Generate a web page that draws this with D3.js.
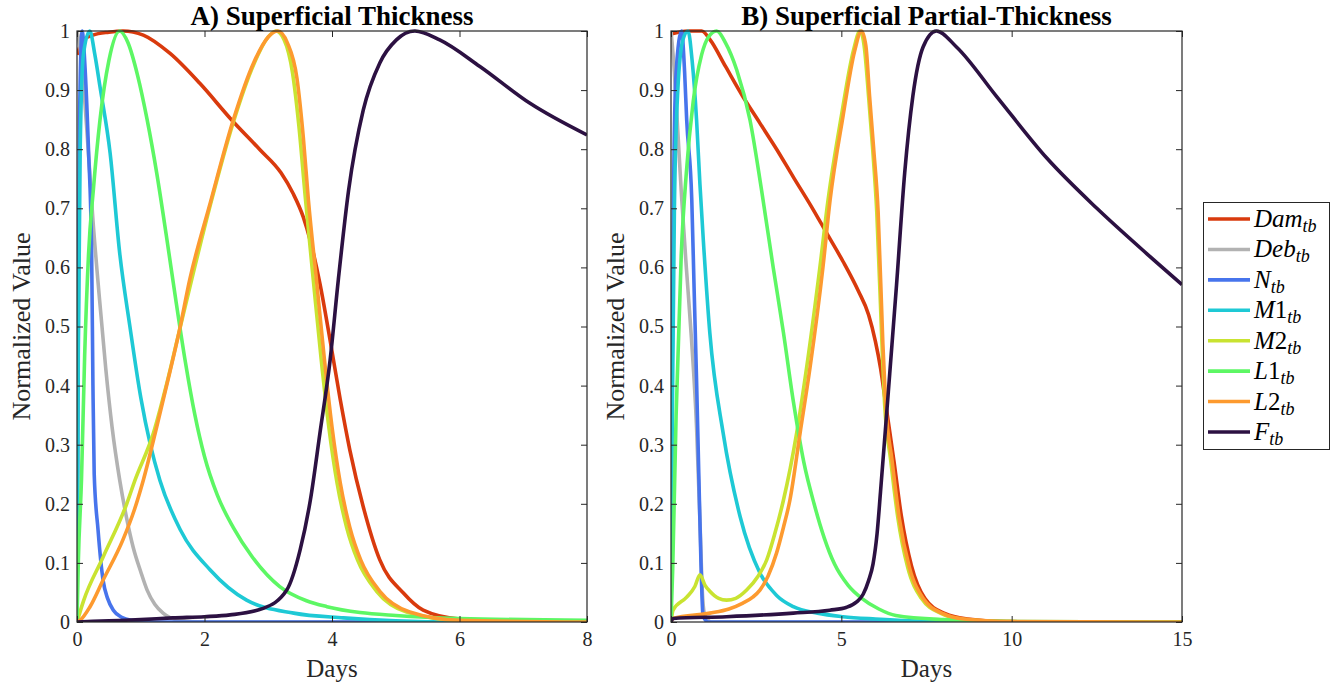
<!DOCTYPE html>
<html lang="en">
<head>
    <meta charset="UTF-8">
    <title>Normalized Value vs Days</title>
    <script src="https://cdnjs.cloudflare.com/ajax/libs/d3/7.8.5/d3.min.js"></script>
</head>
<body style="margin:0">
    <div id="wrapper"></div>
    <script>
        // ---- data: [days, normalized value] ----
        const seriesNames = ['Dam', 'Deb', 'N', 'M1', 'M2', 'L1', 'L2', 'F']
        const seriesColors = ['#d93a0d', '#b2b2b2', '#4774ec', '#1ec9d5', '#c9e331', '#5df764', '#fd9a2f', '#2c1142']

        // panel A - superficial thickness
        const damA = [[0,0.96],[0.1,0.985],[0.25,0.993],[0.5,0.998],[0.72,1.0],[1.04,0.993],[1.46,0.962],[1.93,0.911],[2.43,0.849],[2.87,0.799],[3.2,0.76],[3.39,0.725],[3.55,0.685],[3.66,0.645],[3.81,0.573],[3.97,0.477],[4.13,0.376],[4.28,0.291],[4.49,0.195],[4.75,0.105],[5.12,0.049],[5.43,0.02],[6,0.005],[7,0.001],[8,0]]
        const debA = [[0,1.0],[0.05,0.97],[0.15,0.84],[0.25,0.68],[0.35,0.55],[0.45,0.43],[0.55,0.33],[0.67,0.24],[0.78,0.175],[0.88,0.127],[1.0,0.085],[1.1,0.054],[1.22,0.03],[1.35,0.015],[1.6,0.003],[2,0],[8,0]]
        const nA   = [[0,0],[0.02,0.5],[0.04,0.85],[0.08,1.0],[0.13,0.93],[0.18,0.8],[0.23,0.62],[0.25,0.4],[0.27,0.25],[0.33,0.156],[0.41,0.07],[0.48,0.04],[0.57,0.02],[0.7,0.008],[0.85,0.003],[1.2,0],[8,0]]
        const m1A  = [[0,0],[0.02,0.45],[0.05,0.8],[0.1,0.96],[0.2,1.0],[0.28,0.96],[0.36,0.906],[0.52,0.793],[0.67,0.624],[0.83,0.5],[1.0,0.38],[1.15,0.3],[1.3,0.24],[1.62,0.156],[2.09,0.088],[2.66,0.037],[3.4,0.015],[4.18,0.007],[5,0.002],[6,0],[8,0]]
        const m2A  = [[0,0],[0.1,0.035],[0.41,0.11],[0.78,0.2],[0.91,0.24],[1.2,0.32],[1.4,0.4],[1.6,0.49],[1.8,0.58],[2.09,0.705],[2.45,0.845],[2.77,0.943],[3.0,0.99],[3.12,1.0],[3.25,0.985],[3.38,0.93],[3.48,0.84],[3.58,0.72],[3.71,0.575],[3.83,0.445],[3.95,0.33],[4.08,0.235],[4.23,0.16],[4.4,0.105],[4.7,0.052],[5.17,0.017],[6,0.003],[8,0]]
        const l1A  = [[0,0],[0.02,0.1],[0.07,0.24],[0.12,0.45],[0.18,0.62],[0.26,0.736],[0.36,0.849],[0.5,0.95],[0.67,1.0],[0.8,0.98],[0.95,0.925],[1.1,0.85],[1.25,0.76],[1.4,0.655],[1.55,0.545],[1.7,0.44],[1.85,0.35],[2.0,0.28],[2.2,0.215],[2.45,0.16],[2.75,0.11],[3.18,0.06],[3.6,0.036],[3.92,0.026],[4.44,0.016],[5,0.011],[6,0.006],[8,0.003]]
        const l2A  = [[0,0],[0.05,0.003],[0.2,0.025],[0.41,0.071],[0.72,0.139],[0.9,0.19],[1.04,0.24],[1.25,0.33],[1.45,0.42],[1.6,0.49],[1.77,0.58],[2.09,0.709],[2.45,0.849],[2.77,0.946],[3.0,0.99],[3.15,1.0],[3.3,0.98],[3.45,0.92],[3.55,0.82],[3.63,0.714],[3.76,0.575],[3.88,0.445],[4.0,0.33],[4.13,0.235],[4.28,0.16],[4.45,0.105],[4.75,0.052],[5.22,0.017],[6,0.003],[8,0]]
        const fA   = [[0,0],[0.5,0.002],[1,0.004],[1.5,0.007],[2,0.009],[2.4,0.012],[2.92,0.023],[3.29,0.054],[3.5,0.122],[3.66,0.206],[3.81,0.319],[3.97,0.443],[4.1,0.58],[4.26,0.73],[4.49,0.866],[4.75,0.946],[5.01,0.985],[5.3,1.0],[5.69,0.985],[6.32,0.94],[7.1,0.878],[8,0.824]]

        // panel B - superficial partial-thickness
        const damB = [[0,0.995],[0.5,1.0],[0.9,1.0],[1.15,0.985],[1.6,0.94],[2.1,0.89],[2.6,0.845],[3.1,0.8],[3.6,0.752],[4.1,0.705],[4.6,0.655],[5.05,0.61],[5.5,0.56],[5.8,0.52],[6.0,0.475],[6.15,0.43],[6.3,0.37],[6.55,0.27],[6.76,0.18],[7.06,0.095],[7.45,0.04],[8.05,0.014],[8.7,0.005],[10,0],[15,0]]
        const debB = [[0,1.0],[0.1,0.93],[0.2,0.83],[0.31,0.72],[0.45,0.6],[0.6,0.48],[0.75,0.33],[0.85,0.17],[0.93,0.04],[1.0,0.01],[1.2,0],[15,0]]
        const nB   = [[0,0],[0.03,0.4],[0.08,0.75],[0.15,0.93],[0.31,1.0],[0.4,0.93],[0.46,0.85],[0.61,0.714],[0.68,0.56],[0.75,0.41],[0.82,0.24],[0.88,0.1],[0.94,0.01],[1.1,0],[15,0]]
        const m1B  = [[0,0],[0.03,0.3],[0.1,0.7],[0.2,0.9],[0.35,0.985],[0.5,1.0],[0.62,0.95],[0.75,0.85],[0.85,0.74],[0.95,0.645],[1.14,0.489],[1.53,0.32],[2.03,0.178],[2.61,0.083],[3.1,0.045],[3.59,0.026],[4.3,0.015],[5.05,0.009],[6,0.005],[7,0.002],[9,0],[15,0]]
        const m2B  = [[0,0],[0.06,0.02],[0.46,0.042],[0.7,0.06],[0.85,0.08],[1.0,0.062],[1.14,0.052],[1.4,0.04],[1.63,0.037],[1.9,0.04],[2.22,0.054],[2.55,0.077],[2.81,0.105],[3.05,0.15],[3.3,0.206],[3.5,0.26],[3.69,0.32],[3.98,0.43],[4.37,0.6],[4.61,0.714],[5.0,0.856],[5.35,0.966],[5.55,1.0],[5.68,0.97],[5.8,0.889],[5.92,0.8],[6.04,0.694],[6.2,0.46],[6.27,0.37],[6.45,0.273],[6.66,0.176],[6.95,0.092],[7.35,0.04],[7.94,0.014],[8.6,0.004],[10,0],[15,0]]
        const l1B  = [[0,0],[0.05,0.09],[0.15,0.35],[0.3,0.62],[0.45,0.76],[0.65,0.88],[0.9,0.96],[1.1,0.99],[1.34,1.0],[1.6,0.98],[1.93,0.934],[2.32,0.849],[2.66,0.73],[3.0,0.6],[3.3,0.49],[3.6,0.37],[3.9,0.27],[4.2,0.2],[4.5,0.142],[4.8,0.098],[5.2,0.062],[5.6,0.04],[6.1,0.022],[6.6,0.011],[8,0.004],[10,0.001],[15,0]]
        const l2B  = [[0,0],[0.06,0.006],[1.14,0.015],[1.7,0.022],[2.11,0.032],[2.4,0.042],[2.61,0.054],[2.85,0.078],[3.1,0.117],[3.3,0.16],[3.49,0.206],[3.79,0.32],[4.08,0.43],[4.46,0.6],[4.67,0.714],[5.05,0.856],[5.39,0.966],[5.59,1.0],[5.72,0.975],[5.83,0.889],[5.95,0.8],[6.08,0.694],[6.22,0.47],[6.3,0.37],[6.49,0.273],[6.7,0.176],[7.0,0.092],[7.4,0.04],[7.99,0.014],[8.6,0.005],[10,0.001],[15,0]]
        const fB   = [[0,0],[0.06,0.006],[1.63,0.009],[3.59,0.015],[4.66,0.02],[5.16,0.025],[5.45,0.034],[5.64,0.047],[5.8,0.07],[5.93,0.098],[6.05,0.15],[6.15,0.22],[6.3,0.33],[6.42,0.42],[6.62,0.57],[6.86,0.76],[7.1,0.89],[7.4,0.973],[7.79,1.0],[8.38,0.973],[9.56,0.889],[11.03,0.785],[12.5,0.70],[13.97,0.623],[15,0.571]]

        const panelTitles = ['A) Superficial Thickness', 'B) Superficial Partial-Thickness']
        const panelSeries = [
            [damA, debA, nA, m1A, m2A, l1A, l2A, fA],
            [damB, debB, nB, m1B, m2B, l1B, l2B, fB],
        ]
        const xDomains = [[0, 8], [0, 15]]
        const xTicks = [[0, 2, 4, 6, 8], [0, 5, 10, 15]]
        const yTicks = [0, 0.1, 0.2, 0.3, 0.4, 0.5, 0.6, 0.7, 0.8, 0.9, 1]
        const yTickLabels = ['0', '0.1', '0.2', '0.3', '0.4', '0.5', '0.6', '0.7', '0.8', '0.9', '1']
        const xLabel = 'Days'
        const yLabel = 'Normalized Value'

        // ---- layout ----
        const panels = [
            { left: 77, right: 587 },
            { left: 671, right: 1182 },
        ]
        const plotTop = 31
        const plotBottom = 622
        const axisColor = '#262626'
        const serif = "'Times New Roman', 'Nimbus Roman', 'FreeSerif', 'Tinos', 'Liberation Serif', serif"

        const svg = d3.select('#wrapper')
            .append('svg')
                .attr('width', 1341)
                .attr('height', 686)

        const yScale = d3.scaleLinear()
            .domain([0, 1])
            .range([plotBottom, plotTop])

        panels.forEach((p, i) => {
            const xScale = d3.scaleLinear()
                .domain(xDomains[i])
                .range([p.left, p.right])

            const clipId = `clip${i}`
            svg.append('clipPath').attr('id', clipId)
                .append('rect')
                    .attr('x', p.left)
                    .attr('y', plotTop - 2)
                    .attr('width', p.right - p.left)
                    .attr('height', plotBottom - plotTop + 2)

            // lines, in plotting order (later ones on top)
            const lineGenerator = d3.line()
                .x(d => xScale(d[0]))
                .y(d => yScale(d[1]))
                .curve(d3.curveMonotoneX)

            const lines = svg.append('g').attr('clip-path', `url(#${clipId})`)
            panelSeries[i].forEach((s, k) => {
                lines.append('path')
                    .attr('d', lineGenerator(s))
                    .attr('fill', 'none')
                    .attr('stroke', seriesColors[k])
                    .attr('stroke-width', 3.6)
                    .attr('stroke-linejoin', 'round')
            })

            // axes: ticks point inward, box on
            const yAxis = svg.append('g')
                .attr('transform', `translate(${p.left},0)`)
                .call(d3.axisLeft(yScale)
                    .tickValues(yTicks)
                    .tickFormat((d, j) => yTickLabels[j])
                    .tickSize(-6)
                    .tickPadding(7))
            const yAxisRight = svg.append('g')
                .attr('transform', `translate(${p.right},0)`)
                .call(d3.axisRight(yScale).tickValues(yTicks).tickFormat('').tickSize(-6))
            const xAxis = svg.append('g')
                .attr('transform', `translate(0,${plotBottom})`)
                .call(d3.axisBottom(xScale)
                    .tickValues(xTicks[i])
                    .tickFormat(d3.format('d'))
                    .tickSize(-6)
                    .tickPadding(10))
            const xAxisTop = svg.append('g')
                .attr('transform', `translate(0,${plotTop})`)
                .call(d3.axisTop(xScale).tickValues(xTicks[i]).tickFormat('').tickSize(-6))

            ;[yAxis, yAxisRight, xAxis, xAxisTop].forEach(a => {
                a.attr('font-family', 'serif')
                a.select('.domain').remove()
                a.selectAll('.tick line').attr('stroke', axisColor).attr('stroke-width', 1)
                a.selectAll('.tick text')
                    .attr('fill', axisColor)
                    .style('font-family', serif)
                    .style('font-size', '20px')
            })

            svg.append('rect')
                .attr('x', p.left)
                .attr('y', plotTop)
                .attr('width', p.right - p.left)
                .attr('height', plotBottom - plotTop)
                .attr('fill', 'none')
                .attr('stroke', axisColor)
                .attr('stroke-width', 1.2)

            // labels
            svg.append('text')
                .attr('x', (p.left + p.right) / 2)
                .attr('y', 25)
                .attr('text-anchor', 'middle')
                .style('font-family', serif)
                .style('font-weight', 'bold')
                .style('font-size', '27px')
                .attr('fill', '#000')
                .text(panelTitles[i])

            svg.append('text')
                .attr('x', (p.left + p.right) / 2)
                .attr('y', 677)
                .attr('text-anchor', 'middle')
                .style('font-family', serif)
                .style('font-size', '25px')
                .attr('fill', axisColor)
                .text(xLabel)

            svg.append('text')
                .attr('transform', `translate(${p.left - 47},${(plotTop + plotBottom) / 2}) rotate(-90)`)
                .attr('text-anchor', 'middle')
                .style('font-family', serif)
                .style('font-size', '26px')
                .attr('fill', axisColor)
                .text(yLabel)
        })

        // ---- legend ----
        const legend = svg.append('g')
        legend.append('rect')
            .attr('x', 1203.5)
            .attr('y', 202.5)
            .attr('width', 126)
            .attr('height', 247)
            .attr('fill', '#fff')
            .attr('stroke', axisColor)
            .attr('stroke-width', 1)

        const legendY = d3.scalePoint()
            .domain(seriesNames)
            .range([219, 432])

        seriesNames.forEach((name, k) => {
            const y = legendY(name)
            legend.append('line')
                .attr('x1', 1208)
                .attr('x2', 1250)
                .attr('y1', y)
                .attr('y2', y)
                .attr('stroke', seriesColors[k])
                .attr('stroke-width', 3.6)

            const label = legend.append('text')
                .attr('x', 1254)
                .attr('y', y + 8)
                .style('font-family', serif)
                .style('font-size', '25px')
                .attr('fill', '#000')
            const m = name.match(/^([A-Za-z]+)(\d*)$/)
            label.append('tspan').style('font-style', 'italic').text(m[1])
            if (m[2]) label.append('tspan').text(m[2])
            label.append('tspan')
                .style('font-style', 'italic')
                .style('font-size', '18px')
                .attr('dy', 5)
                .text('tb')
        })
    </script>
</body>
</html>
